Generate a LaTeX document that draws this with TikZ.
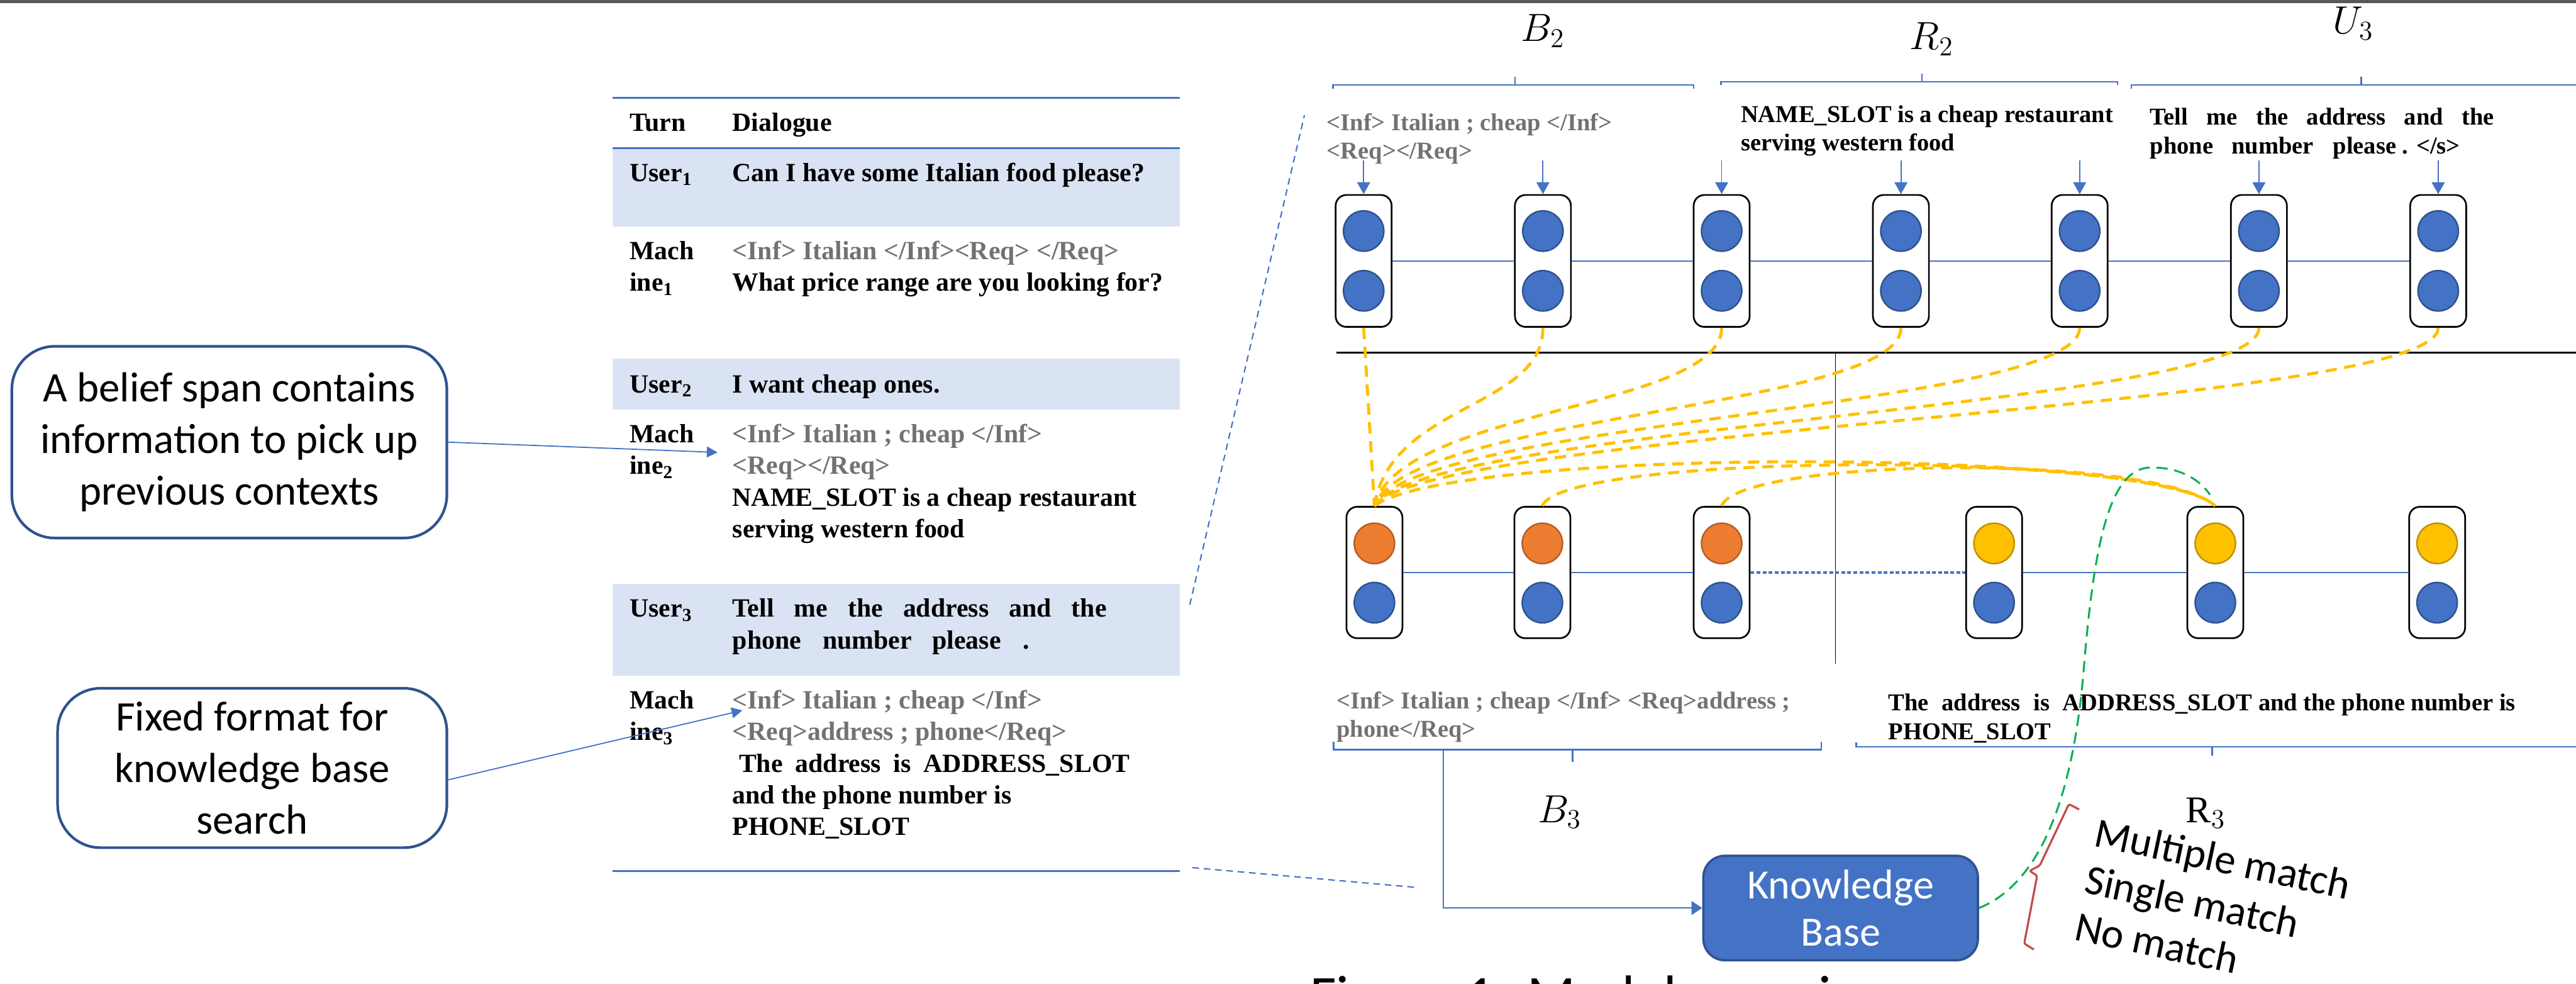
\documentclass[tikz,border=0pt]{standalone}
\usepackage{fontspec}
\setmainfont{Liberation Serif}
\newfontfamily\calib{Carlito}
\usetikzlibrary{arrows.meta}

\definecolor{accblue}{HTML}{4472C4}
\definecolor{darkblue}{HTML}{2F528F}
\definecolor{rowblue}{HTML}{DAE3F3}
\definecolor{taggrey}{HTML}{767171}
\definecolor{gold}{HTML}{FFC000}
\definecolor{ptorange}{HTML}{ED7D31}
\definecolor{ptgreen}{HTML}{00B050}
\definecolor{ptred}{HTML}{C0504D}
\definecolor{barg}{HTML}{595959}

\newcommand{\tabfont}{\fontsize{13.9}{16.7}\selectfont\bfseries}
\newcommand{\dgfont}{\fontsize{12.8}{15.1}\selectfont\bfseries}
\newcommand{\txtlines}[1]{\begin{tabular}[t]{@{}l@{}}#1\end{tabular}}

\begin{document}
\begin{tikzpicture}
			\tikzstyle{cell}=[draw,line width=0.9pt,rounded corners=0.2cm,fill=white,minimum width=1.04cm,minimum height=2.45cm,inner sep=0pt]
			\tikzstyle{dot}=[circle,draw=darkblue,fill=accblue,line width=0.8pt,minimum size=0.75cm,inner sep=0pt]
			\tikzstyle{tabtxt}=[anchor=base west,inner sep=0pt,font=\tabfont]
			\tikzstyle{dgtxt}=[anchor=base west,inner sep=0pt,font=\dgfont]
			\tikzstyle{lbl}=[anchor=base,inner sep=0pt,font=\fontsize{20}{24}\selectfont]
			\tikzstyle{callout}=[draw=darkblue,line width=1.4pt,rounded corners=0.8cm,align=center,font=\calib\fontsize{22.2}{27.3}\selectfont]
			\tikzstyle{kbbox}=[fill=accblue,draw=darkblue,line width=1.2pt,rounded corners=0.4cm,minimum width=5.1cm,minimum height=1.94cm,text=white,align=center,font=\calib\fontsize{22}{25}\selectfont]
			\tikzstyle{matchtxt}=[anchor=base west,inner sep=0pt,rotate=-12,font=\calib\fontsize{22.2}{25.4}\selectfont]
			\tikzstyle{brace}=[accblue,line width=0.8pt]
			\tikzstyle{link}=[accblue,line width=0.8pt]
			\tikzstyle{tokarrow}=[accblue,line width=0.6pt,-{Triangle[length=0.22cm,width=0.24cm]}]
			\tikzstyle{attn}=[gold,line width=1.6pt,dash pattern=on 6pt off 4pt]
			\tikzstyle{match}=[ptgreen,line width=1pt,dash pattern=on 6pt off 3.5pt]
			\tikzstyle{zoomline}=[accblue,line width=0.7pt,dash pattern=on 3.5pt off 2.5pt]
			\useasboundingbox (0,0) rectangle (47.85,-18.27);
			\clip (0,0) rectangle (47.85,-18.27);
			\fill[barg] (0,0) rectangle (47.85,-0.06);

			% dialogue table
			\fill[rowblue] (11.38,-2.75) rectangle (21.92,-4.20);
			\fill[rowblue] (11.38,-6.66) rectangle (21.92,-7.60);
			\fill[rowblue] (11.38,-10.84) rectangle (21.92,-12.55);
			\draw[accblue,line width=1pt] (11.38,-1.82) -- (21.92,-1.82);
			\draw[accblue,line width=1pt] (11.38,-2.75) -- (21.92,-2.75);
			\draw[accblue,line width=1pt] (11.38,-16.17) -- (21.92,-16.17);
			\node[tabtxt] (hturn) at (11.69,-2.44) {Turn};
			\node[tabtxt] (hdial) at (13.60,-2.44) {Dialogue};
			\node[tabtxt] (u1) at (11.69,-3.37) {User\textsubscript{1}};
			\node[tabtxt] (u1t) at (13.60,-3.37) {Can I have some Italian food please?};
			\node[tabtxt] (m1) at (11.69,-4.82) {\txtlines{Mach\\ine\textsubscript{1}}};
			\node[tabtxt] (m1t) at (13.60,-4.82) {\txtlines{\textcolor{taggrey}{<Inf> Italian </Inf><Req> </Req>}\\What price range are you looking for?}};
			\node[tabtxt] (u2) at (11.69,-7.29) {User\textsubscript{2}};
			\node[tabtxt] (u2t) at (13.60,-7.29) {I want cheap ones.};
			\node[tabtxt] (m2) at (11.69,-8.22) {\txtlines{Mach\\ine\textsubscript{2}}};
			\node[tabtxt] (m2t) at (13.60,-8.22) {\txtlines{\textcolor{taggrey}{<Inf> Italian ; cheap </Inf>}\\\textcolor{taggrey}{<Req></Req>}\\NAME\_SLOT is a cheap restaurant\\serving western food}};
			\node[tabtxt] (u3) at (11.69,-11.46) {User\textsubscript{3}};
			\node[tabtxt] (u3t) at (13.60,-11.46) {\txtlines{\makebox[6.95cm][s]{Tell me the address and the}\\phone\hspace{0.40cm}number\hspace{0.38cm}please\hspace{0.41cm}.}};
			\node[tabtxt] (m3) at (11.69,-13.16) {\txtlines{Mach\\ine\textsubscript{3}}};
			\node[tabtxt] (m3t) at (13.60,-13.16) {\txtlines{\textcolor{taggrey}{<Inf> Italian ; cheap </Inf>}\\\textcolor{taggrey}{<Req>address ; phone</Req>}\\\hspace*{0.12cm}\makebox[7.26cm][s]{The address is ADDRESS\_SLOT}\\and the phone number is\\PHONE\_SLOT}};

			% callouts
			\node[callout,minimum width=8.08cm,minimum height=3.56cm] (span) at (4.26,-8.21) {A belief span contains\\information to pick up\\previous contexts};
			\node[callout,minimum width=7.23cm,minimum height=2.96cm] (fmt) at (4.685,-14.26) {Fixed format for\\knowledge base\\search};
			\coordinate (spantip) at (13.33,-8.40);
			\coordinate (fmttip) at (13.79,-13.19);
			\draw[tokarrow,-{Triangle[length=0.2cm,width=0.2cm]}] (span.east) -- (spantip);
			\draw[tokarrow,-{Triangle[length=0.2cm,width=0.2cm]}] ([yshift=-0.22cm]fmt.east) -- (fmttip);

			% zoom lines from the table
			\coordinate (zb1) at (22.10,-11.23);
			\coordinate (zt1) at (24.23,-2.14);
			\coordinate (zb2) at (22.15,-16.11);
			\coordinate (zt2) at (26.34,-16.48);
			\draw[zoomline] (zb1) -- (zt1);
			\draw[zoomline] (zb2) -- (zt2);

			% spans above the encoder
			\node[lbl] (lb2) at (28.66,-0.77) {$B_2$};
			\node[lbl] (lr2) at (35.88,-0.92) {$R_2$};
			\node[lbl] (lu3) at (43.71,-0.63) {$U_3$};
			\draw[brace] (24.76,-1.65) -- (24.76,-1.58) -- (31.46,-1.58) -- (31.46,-1.65) (28.14,-1.58) -- (28.14,-1.43);
			\draw[brace] (31.97,-1.58) -- (31.97,-1.52) -- (39.33,-1.52) -- (39.33,-1.58) (35.70,-1.52) -- (35.70,-1.37);
			\draw[brace] (39.59,-1.65) -- (39.59,-1.58) -- (47.85,-1.58) (43.86,-1.58) -- (43.86,-1.42);
			\node[dgtxt] (b2txt) at (24.64,-2.42) {\txtlines{\textcolor{taggrey}{<Inf> Italian ; cheap </Inf>}\\\textcolor{taggrey}{<Req></Req>}}};
			\node[dgtxt] (r2txt) at (32.33,-2.27) {\txtlines{NAME\_SLOT is a cheap restaurant\\serving western food}};
			\node[dgtxt] (u3txt) at (39.93,-2.32) {\txtlines{\makebox[6.39cm][s]{Tell me the address and the}\\phone\hspace{0.34cm}number\hspace{0.36cm}please . </s>}};

			% separators
			\draw[line width=0.8pt] (24.82,-6.55) -- (47.85,-6.55);
			\draw[line width=0.4pt] (34.09,-6.55) -- (34.09,-12.33);

			% encoder row
			\foreach \n/\x in {1/25.33,2/28.66,3/31.98,4/35.31,5/38.63,6/41.96,7/45.29}{
				\node[cell] (t\n) at (\x,-4.845) {};
				\node[dot] (t\n-u) at (\x,-4.29) {};
				\node[dot] (t\n-d) at (\x,-5.40) {};
				\draw[tokarrow] ([yshift=0.63cm]t\n.north) -- (t\n.north);
			}
			\foreach \a/\b in {1/2,2/3,3/4,4/5,5/6,6/7}
				\draw[link] (t\a) -- (t\b);

			% decoder row
			\foreach \n/\x/\c in {1/25.53/ptorange,2/28.65/ptorange,3/31.98/ptorange,4/37.04/gold,5/41.15/gold,6/45.27/gold}{
				\node[cell,minimum height=2.44cm] (b\n) at (\x,-10.63) {};
				\node[dot,fill=\c,draw=\c!75!black] (b\n-u) at (\x,-10.09) {};
				\node[dot] (b\n-d) at (\x,-11.19) {};
			}
			\draw[link] (b1) -- (b2);
			\draw[link] (b2) -- (b3);
			\draw[link,line width=1.2pt,dash pattern=on 2pt off 1.2pt] (b3) -- (b4);
			\draw[link] (b4) -- (b5);
			\draw[link] (b5) -- (b6);

			% copy attention
			\draw[attn] (t1.south) -- (b1.north);
			\foreach \n/\dx/\dy in {2/0.30/1.90,3/0.45/1.80,4/0.60/1.70,5/0.75/1.60,6/0.90/1.52,7/1.05/1.45}
				\draw[attn] (t\n.south) .. controls +(0,-1.5) and +(\dx,\dy) .. (b1.north);
			\draw[attn] (b1.north) .. controls (27.0,-8.3) and (40.0,-8.3) .. (b5.north);
			\draw[attn] (b2.north) .. controls (29.0,-8.4) and (40.0,-8.35) .. (b5.north);
			\draw[attn] (b3.north) .. controls (32.3,-8.5) and (40.0,-8.4) .. (b5.north);

			% spans below the decoder
			\draw[brace] (24.77,-13.77) -- (24.77,-13.92) -- (33.83,-13.92) -- (33.83,-13.77) (29.21,-13.92) -- (29.21,-14.15);
			\draw[brace] (34.48,-13.79) -- (34.48,-13.87) -- (47.85,-13.87) (41.09,-13.87) -- (41.09,-14.03);
			\node[dgtxt] (b3txt) at (24.82,-13.16) {\txtlines{\textcolor{taggrey}{<Inf> Italian ; cheap </Inf> <Req>address ;}\\\textcolor{taggrey}{phone</Req>}}};
			\node[dgtxt] (r3txt) at (35.07,-13.20) {\txtlines{The\hspace{0.24cm}address\hspace{0.24cm}is\hspace{0.24cm}ADDRESS\_SLOT and the phone number is\\PHONE\_SLOT}};
			\node[lbl] (lb3) at (28.97,-15.27) {$B_3$};
			\node[lbl] (lr3) at (40.97,-15.27) {$\mathrm{R}_3$};

			% knowledge base
			\node[kbbox] (kb) at (34.19,-16.86) {Knowledge\\Base};
			\coordinate (b3foot) at (26.81,-13.92);
			\draw[tokarrow,line width=0.5pt,-{Triangle[length=0.2cm,width=0.26cm]}] (b3foot) |- (kb.west);
			\coordinate (gpeak) at (39.96,-8.68);
			\coordinate (gend) at ([shift={(-0.1,0.21)}]b5.north);
			\draw[match] (kb.east) .. controls (37.9,-16.4) and (38.5,-14.8) .. (38.7,-12.5) .. controls (38.9,-10.0) and (39.2,-8.68) .. (gpeak) .. controls (40.5,-8.68) and (40.85,-8.9) .. (gend);
			\draw[ptred,line width=1.1pt,rounded corners=1pt] (38.62,-15.03) -- (38.43,-14.93) -- (37.89,-16.07) -- (37.70,-16.17) -- (37.84,-16.26) -- (37.60,-17.52) -- (37.78,-17.63);
			\node[matchtxt] (matches) at (38.87,-15.70) {\txtlines{Multiple match\\Single match\\No match}};
			\node[anchor=base west,inner sep=0pt,font=\calib\fontsize{30}{36}\selectfont] (cap) at (24.33,-18.85) {Figure 1: Model overview};
\end{tikzpicture}
\end{document}
